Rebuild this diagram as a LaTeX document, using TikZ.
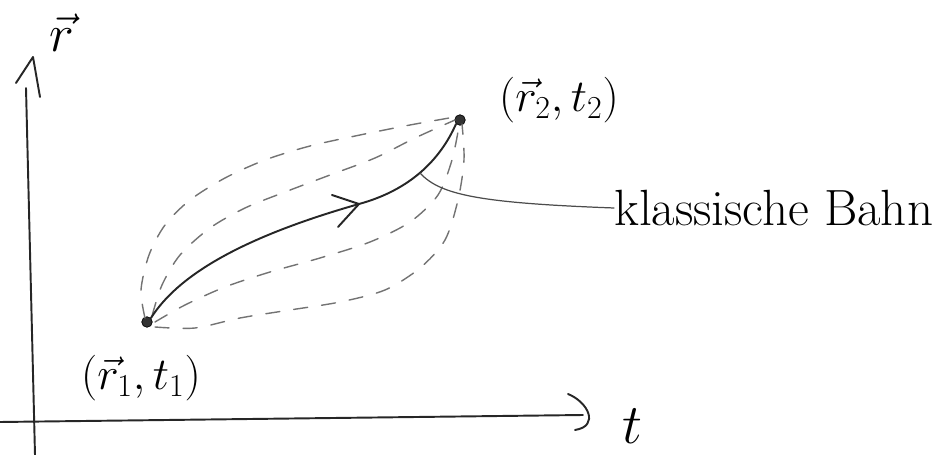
\documentclass[tikz,border=0pt]{standalone}
\usepackage{fix-cm}
\usetikzlibrary{calc}
\tikzset{
  ink/.style={draw=black!85, line width=1.1pt, line cap=round, line join=round},
  thinink/.style={draw=black!70, line width=0.7pt, line cap=round},
  dashpath/.style={draw=black!55, line width=0.8pt, dash pattern=on 8pt off 8pt, line cap=round},
  dot/.style={circle, fill=black!80, draw=black, inner sep=0pt, minimum size=6pt},
  biglab/.style={font=\fontsize{26}{30}\selectfont, inner sep=0pt},
}
\begin{document}
\begin{tikzpicture}[x=0.02cm, y=-0.02cm]
\useasboundingbox (0,0) rectangle (942,455);
% axes
\coordinate (ybot) at (35,455);
\coordinate (ytop) at (26,88);
\coordinate (ytip) at (33,57);
\coordinate (yl) at (16,83);
\coordinate (yr) at (40,97);
\draw[ink] (ybot) -- (ytop);
\draw[ink] (yl) -- (ytip) -- (yr);
\coordinate (xs) at (0,422);
\coordinate (xe) at (583,415);
\coordinate (xh1) at (568,394);
\coordinate (xh2) at (575,430);
\draw[ink] (xs) -- (xe);
\draw[ink] (xh1) .. controls (588,402) and (600,426) .. (xh2);
\node[font=\fontsize{30}{34}\selectfont, inner sep=0pt] (rlab) at (62,33) {$\vec r$};
\node[font=\fontsize{32}{36}\selectfont, inner sep=0pt] (tlab) at (632,426) {$t$};
% points
\node[dot] (p1) at (147,322) {};
\node[dot] (p2) at (460,120) {};
\node[biglab] (l1) at (141,378) {$(\vec r_{1},t_{1})$};
\node[biglab] (l2) at (559,100) {$(\vec r_{2},t_{2})$};
% dashed alternative paths
\draw[dashpath] plot[smooth] coordinates {(145,318) (141,290) (149,255) (165,225) (190,200) (225,178) (265,160) (310,146) (360,135) (410,125) (455,117)};
\draw[dashpath] plot[smooth] coordinates {(152,316) (162,285) (180,255) (210,228) (245,208) (285,192) (330,175) (375,158) (415,138) (455,120)};
\draw[dashpath] plot[smooth] coordinates {(155,322) (185,305) (225,287) (270,272) (320,258) (370,242) (410,222) (438,195) (452,160) (459,126)};
\draw[dashpath] plot[smooth] coordinates {(155,327) (195,328) (240,318) (290,310) (340,302) (385,290) (420,268) (445,240) (458,200) (464,160) (462,124)};
% classical path
\draw[ink] (p1.north east) .. controls (180,272) and (250,235) .. (359,204)
  .. controls (410,190) and (440,160) .. (p2.south west);
\coordinate (ah) at (359,204);
\draw[ink] (332,195) -- (ah) -- (338,227);
% label
\node[anchor=west, font=\fontsize{29}{33}\selectfont, inner sep=0pt] (bahn) at (614,208) {klassische Bahn};
\coordinate (lp) at (420,173);
\draw[thinink] (lp) .. controls (440,195) and (480,203) .. (bahn.west);
\end{tikzpicture}
\end{document}
